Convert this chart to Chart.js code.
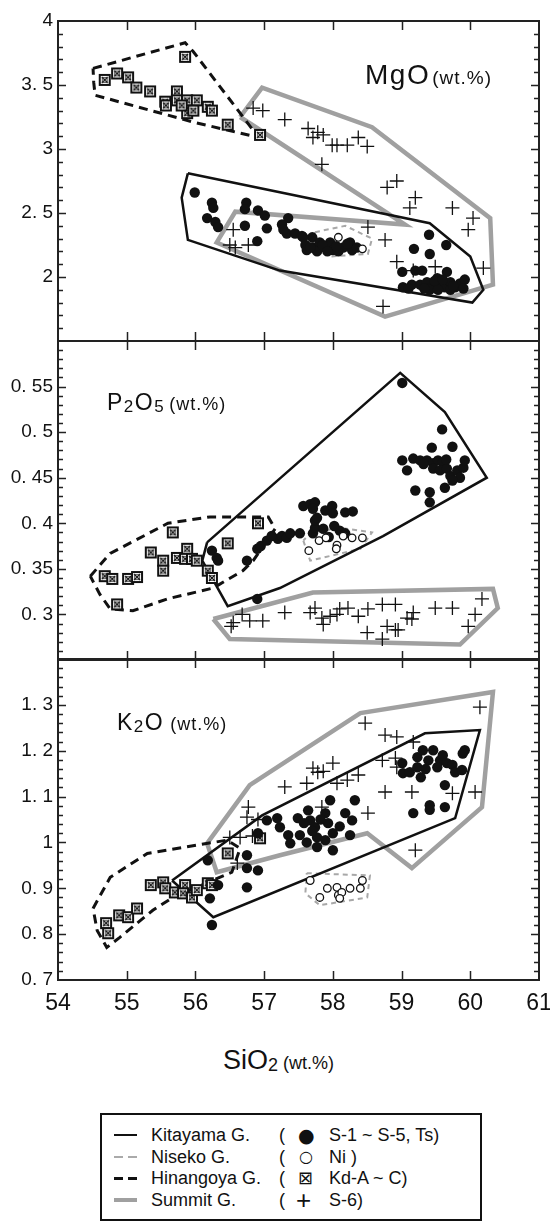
<!DOCTYPE html>
<html>
<head>
<meta charset="utf-8">
<script src="https://cdn.jsdelivr.net/npm/chart.js@4.4.1/dist/chart.umd.min.js"></script>
<style>
html,body{margin:0;padding:0;background:#fff;}
#wrap{position:relative;width:550px;height:1224px;overflow:hidden;font-family:"Liberation Sans",Arial,sans-serif;color:#111;}
#wrap canvas{position:absolute;left:0;}
.lbl{position:absolute;line-height:1;white-space:nowrap;color:#111;}
.sub{vertical-align:-2px;}
#legend{position:absolute;left:100px;top:1113px;width:378px;height:104px;border:2px solid #111;font-size:18px;}
.row{position:absolute;left:0;width:378px;height:22px;line-height:22px;}
.row span{position:absolute;white-space:nowrap;}
.samp{position:absolute;left:12px;width:23px;}
</style>
</head>
<body>
<div id="wrap">
  <canvas id="c1" width="570" height="380" style="top:-9px"></canvas>
  <canvas id="c2" width="570" height="379" style="top:311px"></canvas>
  <canvas id="c3" width="570" height="401" style="top:629px"></canvas>

  <div class="lbl" style="left:365px;top:61px;font-size:28px;letter-spacing:1.5px">MgO<span style="font-size:19px;letter-spacing:1px;margin-left:2px">(wt.%)</span></div>
  <div class="lbl" style="left:107px;top:391px;font-size:23px;letter-spacing:1.5px">P<span class="sub" style="font-size:17px">2</span>O<span class="sub" style="font-size:17px">5</span><span style="font-size:18px;letter-spacing:1px;margin-left:4px">(wt.%)</span></div>
  <div class="lbl" style="left:117px;top:711px;font-size:23px;letter-spacing:1.5px">K<span class="sub" style="font-size:17px">2</span>O<span style="font-size:18px;letter-spacing:1px;margin-left:6px">(wt.%)</span></div>
  <div class="lbl" style="left:223px;top:1047px;font-size:27px">SiO<span class="sub" style="font-size:18px">2</span><span style="font-size:18px;margin-left:5px">(wt.%)</span></div>

  <div id="legend">
    <div class="row" style="top:9px">
      <div class="samp" style="top:10px;height:2px;background:#111"></div>
      <span style="left:49px">Kitayama G.</span><span style="left:177px">(</span><span style="left:196px;font-family:'DejaVu Sans';font-size:19px">●</span><span style="left:227px">S-1 ~ S-5, Ts)</span>
    </div>
    <div class="row" style="top:30.5px">
      <div class="samp" style="top:10px;height:2px;background:repeating-linear-gradient(90deg,#aaa 0 9px,transparent 9px 14px)"></div>
      <span style="left:49px">Niseko G.</span><span style="left:177px">(</span><span style="left:197px;font-family:'DejaVu Sans';font-size:16px">○</span><span style="left:227px">Ni )</span>
    </div>
    <div class="row" style="top:52px">
      <div class="samp" style="top:9.5px;height:3px;background:repeating-linear-gradient(90deg,#111 0 9px,transparent 9px 14px)"></div>
      <span style="left:49px">Hinangoya G.</span><span style="left:177px">(</span><span style="left:196px;font-family:'DejaVu Sans';font-size:18px">⊠</span><span style="left:227px">Kd-A ~ C)</span>
    </div>
    <div class="row" style="top:73.5px">
      <div class="samp" style="top:9px;height:4px;background:#a0a0a0"></div>
      <span style="left:49px">Summit G.</span><span style="left:177px">(</span><span style="left:194px;font-size:26px;font-weight:300">+</span><span style="left:227px">S-6)</span>
    </div>
  </div>
</div>

<script>
// ---------- tick labels ----------
const X_TICKS = [54, 55, 56, 57, 58, 59, 60, 61];
const MGO_TICKS = [2, 2.5, 3, 3.5, 4];
const P2O5_TICKS = [0.3, 0.35, 0.4, 0.45, 0.5, 0.55];
const K2O_TICKS = [0.7, 0.8, 0.9, 1, 1.1, 1.2, 1.3];

// ---------- MgO panel (SiO2, MgO) ----------
const kitayamaMgO = [[55.99,2.66],[56.24,2.58],[56.26,2.54],[56.17,2.46],[56.29,2.43],[56.33,2.39],[56.74,2.58],[56.72,2.53],[56.91,2.52],[57.01,2.48],[56.72,2.40],[57.04,2.38],[56.90,2.28],[57.35,2.46],[57.26,2.41],[57.33,2.34],[57.45,2.34],[57.55,2.32],[57.60,2.25],[57.70,2.31],[57.71,2.23],[57.81,2.27],[57.89,2.23],[57.96,2.27],[58.00,2.21],[58.15,2.23],[58.25,2.27],[58.28,2.21],[58.35,2.23],[57.62,2.21],[57.77,2.20],[58.08,2.20],[57.28,2.37],[57.57,2.31],[57.67,2.23],[58.21,2.26],[57.85,2.25],[58.05,2.24],[57.92,2.20],
  [59.40,2.33],[59.18,2.22],[59.41,2.18],[59.65,2.25],[59.01,2.04],[59.20,2.05],[59.30,2.05],[59.66,2.04],[59.02,1.92],[59.15,1.94],[59.27,1.94],[59.37,1.96],[59.44,1.92],[59.52,1.99],[59.56,1.95],[59.63,1.92],[59.71,1.96],[59.78,1.92],[59.85,1.95],[59.92,1.98],[59.90,1.91],[59.41,1.90],[59.53,1.90],[59.71,1.90],[59.48,1.97],[59.60,1.98],[59.75,1.93],[59.33,1.91],[59.10,1.91]];
const nisekoMgO = [[58.08,2.31],[58.43,2.22]];
const hinangoyaMgO = [[54.68,3.54],[54.86,3.59],[55.02,3.56],[55.14,3.48],[55.34,3.45],[55.56,3.37],[55.57,3.34],[55.73,3.45],[55.73,3.38],[55.88,3.38],[56.02,3.38],[55.88,3.28],[55.97,3.30],[56.18,3.33],[56.24,3.30],[55.85,3.72],[56.47,3.19],[56.94,3.11],[55.80,3.34]];
const summitMgO = [[56.84,3.32],[56.98,3.30],[56.55,2.37],[56.50,2.25],[56.58,2.23],[56.77,2.25],[57.30,3.23],[57.64,3.16],[57.71,3.09],[57.78,3.13],[57.86,3.11],[57.99,3.03],[58.06,3.03],[58.21,3.03],[58.37,3.09],[58.50,3.02],[57.84,2.88],[58.79,2.70],[58.93,2.75],[59.20,2.62],[59.12,2.54],[59.74,2.54],[60.04,2.46],[59.97,2.37],[58.51,2.39],[58.76,2.29],[58.93,2.12],[59.17,2.05],[59.49,2.08],[60.19,2.07],[58.73,1.77]];
const kitayamaFieldMgO = [[55.89,2.81],[55.80,2.62],[55.89,2.29],[57.23,2.05],[60.03,1.80],[60.19,1.90],[60.00,2.16],[59.41,2.42]];
const nisekoFieldMgO = [[57.74,2.35],[58.18,2.40],[58.57,2.30],[58.51,2.18],[57.96,2.16],[57.70,2.25]];
const hinangoyaFieldMgO = [[54.51,3.63],[55.85,3.83],[55.97,3.76],[56.92,3.09],[55.97,3.21],[54.54,3.42],[54.52,3.52]];
const summitFieldMgO = [[56.65,3.25],[56.97,3.48],[58.57,3.17],[60.29,2.46],[60.33,1.94],[58.76,1.69],[56.31,2.27],[56.58,2.51],[59.05,2.41]];

// ---------- P2O5 panel ----------
const kitayamaP2O5 = [[56.24,0.370],[56.31,0.362],[56.33,0.359],[56.75,0.359],[56.90,0.372],[56.95,0.375],[57.04,0.381],[57.20,0.383],[56.90,0.317],[57.11,0.386],[57.26,0.386],[57.33,0.384],[57.38,0.389],[57.52,0.389],[57.71,0.389],[57.74,0.395],[57.86,0.394],[57.74,0.403],[57.57,0.419],[57.67,0.421],[57.74,0.423],[57.71,0.416],[57.89,0.414],[57.99,0.419],[58.00,0.411],[57.77,0.406],[58.18,0.412],[58.29,0.413],[58.10,0.392],[58.18,0.389],[57.94,0.385],[58.02,0.397],
  [59.01,0.554],[59.59,0.503],[59.74,0.484],[59.44,0.483],[59.01,0.469],[59.08,0.458],[59.17,0.471],[59.27,0.469],[59.37,0.469],[59.46,0.466],[59.53,0.469],[59.60,0.467],[59.46,0.460],[59.56,0.458],[59.66,0.460],[59.71,0.452],[59.81,0.458],[59.90,0.461],[59.92,0.469],[59.85,0.450],[59.74,0.447],[59.63,0.439],[59.20,0.436],[59.41,0.434],[59.41,0.423],[59.32,0.465],[59.65,0.470]];
const nisekoP2O5 = [[57.65,0.370],[57.80,0.381],[57.90,0.384],[58.06,0.376],[58.15,0.386],[58.28,0.384],[58.43,0.384],[58.05,0.372]];
const hinangoyaP2O5 = [[54.68,0.342],[54.79,0.339],[55.02,0.339],[55.15,0.341],[54.86,0.311],[55.35,0.368],[55.53,0.359],[55.53,0.348],[55.67,0.390],[55.73,0.362],[55.88,0.372],[55.85,0.361],[55.95,0.361],[56.02,0.359],[56.18,0.348],[56.24,0.340],[56.47,0.378],[56.91,0.400]];
const summitP2O5 = [[56.55,0.291],[56.68,0.300],[56.79,0.293],[56.98,0.293],[56.52,0.287],[57.30,0.302],[57.67,0.302],[57.74,0.307],[57.84,0.296],[57.86,0.289],[57.96,0.298],[58.06,0.300],[58.10,0.306],[58.22,0.307],[58.37,0.298],[58.51,0.306],[58.50,0.280],[58.72,0.311],[58.91,0.311],[58.79,0.287],[58.72,0.273],[58.91,0.283],[58.95,0.283],[59.08,0.296],[59.17,0.302],[59.15,0.295],[59.49,0.307],[59.74,0.307],[60.17,0.317],[60.07,0.300],[59.97,0.287]];
const kitayamaFieldP2O5 = [[56.17,0.379],[56.10,0.359],[56.47,0.309],[57.23,0.329],[58.73,0.386],[60.24,0.450],[59.63,0.522],[58.98,0.565]];
const nisekoFieldP2O5 = [[57.57,0.381],[57.67,0.359],[58.40,0.372],[58.57,0.390],[58.10,0.395],[57.67,0.389]];
const hinangoyaFieldP2O5 = [[54.47,0.342],[54.76,0.367],[55.60,0.400],[56.21,0.407],[57.06,0.407],[57.16,0.394],[56.84,0.359],[56.69,0.348],[56.26,0.329],[55.59,0.317],[55.09,0.304],[54.76,0.306],[54.61,0.322]];
const summitFieldP2O5 = [[56.26,0.295],[56.50,0.273],[59.85,0.267],[60.40,0.307],[60.33,0.328],[57.71,0.324]];

// ---------- K2O panel ----------
const kitayamaK2O = [[56.18,0.961],[56.33,0.907],[56.21,0.878],[56.24,0.820],[56.75,0.944],[56.75,0.972],[56.75,0.902],[56.91,0.939],[57.04,1.048],[56.91,1.020],[57.23,1.033],[57.35,1.016],[57.38,0.998],[57.49,1.053],[57.64,1.070],[57.52,1.016],[57.67,1.048],[57.74,1.033],[57.77,1.011],[57.89,1.064],[57.93,1.042],[57.89,1.005],[58.00,1.020],[57.96,1.092],[58.18,1.064],[58.28,1.048],[58.32,1.092],[58.25,1.016],[58.00,0.983],[57.62,1.000],[57.77,0.990],[57.58,1.042],[57.82,1.050],[57.70,1.025],[58.10,1.035],[57.19,1.053],
  [59.01,1.173],[59.02,1.151],[59.12,1.153],[59.23,1.186],[59.31,1.201],[59.39,1.179],[59.46,1.201],[59.28,1.142],[59.56,1.179],[59.66,1.173],[59.74,1.169],[59.78,1.153],[59.88,1.158],[59.92,1.201],[59.89,1.194],[59.63,1.125],[59.17,1.064],[59.41,1.081],[59.41,1.071],[59.63,1.077],[59.23,1.164],[59.52,1.164],[59.35,1.160],[59.60,1.190]];
const nisekoK2O = [[57.67,0.917],[57.81,0.880],[57.92,0.900],[58.06,0.902],[58.08,0.885],[58.13,0.891],[58.25,0.900],[58.40,0.900],[58.43,0.917],[58.10,0.878]];
const hinangoyaK2O = [[54.70,0.824],[54.89,0.841],[55.02,0.837],[55.15,0.856],[54.73,0.802],[55.35,0.907],[55.53,0.913],[55.56,0.900],[55.70,0.891],[55.85,0.907],[55.82,0.889],[55.95,0.880],[56.02,0.896],[56.18,0.911],[56.24,0.907],[56.47,0.976],[56.94,1.009]];
const summitK2O = [[58.47,1.260],[58.76,1.234],[58.93,1.230],[59.17,1.219],[60.14,1.295],[57.30,1.121],[57.62,1.129],[57.71,1.162],[57.78,1.153],[57.86,1.155],[58.00,1.173],[58.06,1.129],[58.21,1.136],[58.37,1.147],[58.72,1.179],[58.91,1.184],[58.93,1.164],[58.76,1.110],[59.15,1.110],[58.51,1.064],[57.84,1.077],[59.74,1.107],[60.07,1.110],[59.20,0.983],[56.75,1.055],[56.50,1.011],[56.65,1.011],[56.83,1.014],[56.61,0.955],[56.91,1.050],[56.77,1.077]];
const kitayamaFieldK2O = [[55.66,0.917],[56.97,1.059],[59.34,1.238],[60.14,1.245],[59.78,1.053],[56.26,0.837]];
const nisekoFieldK2O = [[57.62,0.933],[58.54,0.928],[58.50,0.880],[57.81,0.863],[57.60,0.889]];
const hinangoyaFieldK2O = [[54.51,0.856],[54.76,0.924],[55.30,0.976],[56.46,1.005],[56.65,0.987],[56.53,0.935],[55.67,0.880],[55.38,0.852],[54.90,0.793],[54.71,0.771],[54.57,0.808]];
const summitFieldK2O = [[56.17,0.998],[56.79,1.125],[58.40,1.282],[60.33,1.328],[60.17,1.077],[59.15,0.944],[58.50,1.020],[57.23,0.972],[56.31,0.935]];

// ---------- rendering ----------
const FONT = '"Liberation Sans", Arial, sans-serif';
const toXY = a => a.map(p => ({x: p[0], y: p[1]}));
const closed = a => toXY(a.concat([a[0]]));

function crossBox() {
  const c = document.createElement('canvas');
  c.width = 14; c.height = 14;
  const g = c.getContext('2d');
  g.fillStyle = '#fff'; g.fillRect(1, 1, 12, 12);
  g.strokeStyle = '#111'; g.lineWidth = 2; g.strokeRect(2, 2, 10, 10);
  g.lineWidth = 1; g.strokeStyle = '#666'; g.strokeRect(4.5, 4.5, 5, 5);
  g.strokeStyle = '#111'; g.lineWidth = 1.2;
  g.beginPath(); g.moveTo(4, 4); g.lineTo(10, 10); g.moveTo(10, 4); g.lineTo(4, 10); g.stroke();
  return c;
}
const BOX = crossBox();

const framePlugin = {
  id: 'frame',
  afterDatasetsDraw(chart, args, opts) {
    const ctx = chart.ctx, a = chart.chartArea, xs = chart.scales.x, ys = chart.scales.y;
    ctx.save();
    ctx.strokeStyle = '#222';
    ctx.lineWidth = 1.5;
    ctx.beginPath();
    for (const v of X_TICKS) {
      if (v <= xs.min || v >= xs.max) continue;
      const px = Math.round(xs.getPixelForValue(v)) + 0.5;
      ctx.moveTo(px, a.top); ctx.lineTo(px, a.top + 9);
      ctx.moveTo(px, a.bottom); ctx.lineTo(px, a.bottom - 9);
    }
    const n0 = Math.round(ys.min / opts.minor), n1 = Math.round(ys.max / opts.minor);
    for (let k = n0 + 1; k < n1; k++) {
      const v = k * opts.minor;
      const r = v / opts.major;
      const major = Math.abs(r - Math.round(r)) < 1e-6;
      const len = major ? 8 : 5;
      const py = Math.round(ys.getPixelForValue(v)) + 0.5;
      ctx.moveTo(a.left, py); ctx.lineTo(a.left + len, py);
      ctx.moveTo(a.right, py); ctx.lineTo(a.right - len, py);
    }
    ctx.stroke();
    ctx.lineWidth = 2;
    ctx.strokeRect(a.left, a.top, a.right - a.left, a.bottom - a.top);
    ctx.restore();
  }
};

function fmt(v) {
  const s = String(Math.round(v * 100) / 100);
  return s.replace('.', '. ');
}

function datasets(kita, nis, hin, sum, fK, fN, fH, fS) {
  return [
    {data: toXY(kita), pointStyle: 'circle', pointRadius: 5.2, pointBackgroundColor: '#111', pointBorderColor: '#111', pointBorderWidth: 0, showLine: false, order: 1},
    {data: toXY(nis), pointStyle: 'circle', pointRadius: 3.8, pointBackgroundColor: '#fff', pointBorderColor: '#111', pointBorderWidth: 1.3, showLine: false, order: 0},
    {data: toXY(hin), pointStyle: BOX, pointRadius: 7, showLine: false, order: 2},
    {data: toXY(sum), pointStyle: 'cross', pointRadius: 7, pointBorderColor: '#111', pointBorderWidth: 1.3, showLine: false, order: 3},
    {data: closed(fK), showLine: true, pointRadius: 0, borderColor: '#111', borderWidth: 2.5, fill: false, tension: 0, order: 10},
    {data: closed(fN), showLine: true, pointRadius: 0, borderColor: '#a8a8a8', borderWidth: 2, borderDash: [5, 4], fill: false, tension: 0, order: 11},
    {data: closed(fH), showLine: true, pointRadius: 0, borderColor: '#111', borderWidth: 3, borderDash: [9, 6], fill: false, tension: 0, order: 12},
    {data: closed(fS), showLine: true, pointRadius: 0, borderColor: '#a0a0a0', borderWidth: 4.5, fill: false, tension: 0, order: 13}
  ];
}

function makeChart(id, ds, ymin, ymax, yticks, major, minor, padTop, padBottom, showX) {
  return new Chart(document.getElementById(id), {
    type: 'scatter',
    data: {datasets: ds},
    plugins: [framePlugin],
    options: {
      responsive: false, animation: false, devicePixelRatio: 1, events: [],
      layout: {padding: {top: padTop, bottom: padBottom, left: 0, right: 31}},
      plugins: {legend: {display: false}, tooltip: {enabled: false}, frame: {major: major, minor: minor}},
      scales: {
        x: {
          type: 'linear', min: 54, max: 61, display: showX,
          grid: {display: false, drawTicks: false}, border: {display: false},
          ticks: {autoSkip: false, maxRotation: 0, padding: 10, color: '#111', font: {family: FONT, size: 23}},
          afterBuildTicks: s => { s.ticks = X_TICKS.map(v => ({value: v})); },
          afterFit: s => { s.height = showX ? 50 : 0; }
        },
        y: {
          type: 'linear', min: ymin, max: ymax,
          grid: {display: false, drawTicks: false}, border: {display: false},
          ticks: {padding: 5, color: '#111', font: {family: FONT, size: 19}, callback: v => fmt(v)},
          afterBuildTicks: s => { s.ticks = yticks.map(v => ({value: v})); },
          afterFit: s => { s.width = 58; }
        }
      }
    }
  });
}

makeChart('c1', datasets(kitayamaMgO, nisekoMgO, hinangoyaMgO, summitMgO, kitayamaFieldMgO, nisekoFieldMgO, hinangoyaFieldMgO, summitFieldMgO), 1.5, 4, MGO_TICKS, 0.5, 0.1, 30, 30, false);
makeChart('c2', datasets(kitayamaP2O5, nisekoP2O5, hinangoyaP2O5, summitP2O5, kitayamaFieldP2O5, nisekoFieldP2O5, hinangoyaFieldP2O5, summitFieldP2O5), 0.25, 0.6, P2O5_TICKS, 0.05, 0.01, 30, 30, false);
makeChart('c3', datasets(kitayamaK2O, nisekoK2O, hinangoyaK2O, summitK2O, kitayamaFieldK2O, nisekoFieldK2O, hinangoyaFieldK2O, summitFieldK2O), 0.7, 1.4, K2O_TICKS, 0.1, 0.02, 30, 0, true);
</script>
</body>
</html>
